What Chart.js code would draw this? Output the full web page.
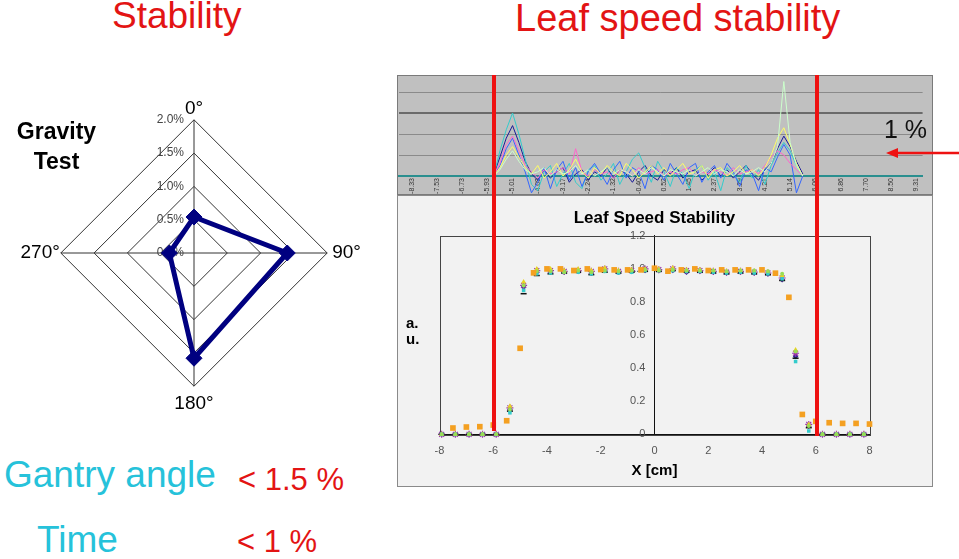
<!DOCTYPE html>
<html>
<head>
<meta charset="utf-8">
<script src="https://cdn.jsdelivr.net/npm/chart.js@4.4.1/dist/chart.umd.min.js"></script>
<style>
  body { margin: 0; background: #fff; font-family: 'Liberation Sans', Arial, sans-serif; }
  #slide { position: relative; width: 959px; height: 559px; overflow: hidden; background: #fff; }
  .txt { position: absolute; white-space: nowrap; line-height: 1; }
  canvas { position: absolute; }
  .redline { position: absolute; width: 4px; background: #ee1111; }
  .red { color: #e31414; }
  .cyan { color: #26c2da; }
</style>
</head>
<body>
<div id="slide">
  <canvas id="gravityChart" width="348" height="324" style="left:17px; top:95px;"></canvas>
  <canvas id="gapChart" width="536" height="120" style="left:397px; top:75px;"></canvas>
  <canvas id="profileChart" width="536" height="292" style="left:397px; top:195px;"></canvas>

  <div class="txt red" style="left:112px; top:-3px; font-size:37px;">Stability</div>
  <div class="txt red" style="left:515px; top:-1px; font-size:38px;">Leaf speed stability</div>

  <div class="txt" style="left:0; width:113px; text-align:center; top:120px; font-size:23px; font-weight:bold;">Gravity</div>
  <div class="txt" style="left:0; width:113px; text-align:center; top:150px; font-size:23px; font-weight:bold;">Test</div>

  <div class="txt cyan" style="left:4px; top:456px; font-size:37px;">Gantry angle</div>
  <div class="txt red" style="left:238px; top:464px; font-size:31px;">&lt; 1.5 %</div>
  <div class="txt cyan" style="left:37px; top:521px; font-size:37px;">Time</div>
  <div class="txt red" style="left:237px; top:526px; font-size:31px;">&lt; 1 %</div>

  <div class="txt" style="left:884px; top:117px; font-size:25px; color:#111;">1 %</div>
  <svg style="position:absolute; left:880px; top:140px;" width="79" height="26">
    <line x1="79" y1="13" x2="14" y2="13" stroke="#ee1111" stroke-width="2.5"/>
    <polygon points="6,13 18,8 18,18" fill="#ee1111"/>
  </svg>

  <div class="redline" style="left:492px; top:75px; height:356px;"></div>
  <div class="redline" style="left:815px; top:75px; height:361px;"></div>
</div>

<script>
// ---- data ----
// gravity test (radar), deviation in %
const gravityLabels = ['0°', '90°', '180°', '270°'];
const gravityValues = [0.54, 1.40, 1.58, 0.37];

// leaf gap difference traces (top grey panel)
const gapTickLabels = ['-8.33', '-7.53', '-6.73', '-5.93', '-5.01', '-4.09', '-3.17', '-2.24', '-1.32', '-0.40', '0.52',
                       '1.45', '2.37', '3.29', '4.21', '5.14', '6.06', '6.86', '7.70', '8.50', '9.31'];
const gapStart = 15; // first category that carries data
const gapNavy   = [0.05, 0.9, 1.8, 2.4, 1.6, 0.7, 0.1, -0.2, 0.3, -0.1, 0.2, 0.4, -0.3, 0.1, 0.3, -0.2, 0.2, 0.0, 0.4, -0.1,
                   0.3, 0.1, -0.3, 0.2, 0.5, 0.0, -0.2, 0.3, 0.1, 0.4, -0.1, 0.2, 0.3, -0.2, 0.1, 0.4, 0.0, 0.3, -0.1, 0.2,
                   0.5, 0.1, -0.2, 0.3, 0.6, 1.3, 1.9, 1.4, 0.7, 0.1];
const gapCyan   = [0.0, 1.2, 2.2, 3.0, 2.0, 0.8, -0.4, -0.7, 0.2, 0.5, -0.5, 0.1, 0.6, -0.3, -0.6, 0.3, 0.5, -0.2, 0.1, 0.6,
                   -0.4, 0.2, 0.8, 1.1, 0.4, -0.3, 0.7, 0.2, -0.5, 0.4, 0.1, -0.6, 0.3, 0.5, -0.2, 0.2, -0.7, 0.4, 0.1, -0.3,
                   0.5, -0.1, 0.3, -0.4, 0.5, 1.1, 1.6, 1.2, 0.5, 0.0];
const gapBlue   = [0.0, 0.5, 1.3, 1.8, 1.0, 0.2, -0.8, -0.3, 0.4, -0.6, 0.3, 0.7, -0.2, 0.4, -0.5, 0.2, 0.6, 0.1, -0.4, 0.3,
                   0.7, -0.1, 0.4, 0.2, -0.6, 0.5, 0.3, -0.2, 0.6, 0.1, -0.4, 0.4, 0.6, -0.3, 0.2, 0.5, -0.1, 0.6, 0.2, -0.5,
                   0.3, 0.1, -0.7, 0.4, 0.2, 0.9, 1.5, 1.0, -0.8, 0.0];
const gapYellow = [0.0, 0.4, 1.0, 1.4, 0.9, 0.4, 0.1, 0.5, -0.1, 0.2, 0.6, 0.0, 0.3, 0.8, 0.2, -0.1, 0.4, 0.1, 0.5, 0.2,
                   0.0, 0.6, 0.3, -0.1, 0.2, 0.5, 0.1, 0.4, 0.0, 0.3, 0.6, 0.1, 0.2, 0.5, -0.1, 0.3, 0.4, 0.0, 0.2, 0.5,
                   0.1, 0.3, 0.0, 0.4, 1.0, 1.8, 2.3, 1.5, 0.6, 0.0];
const gapPink   = [0.0, 0.6, 1.5, 1.9, 1.2, 0.5, 0.2, -0.1, 0.3, 0.1, 0.2, 0.4, 0.1, 1.3, 0.2, 0.0, 0.3, 0.1, 0.2, -0.1,
                   0.3, 0.2, 0.0, 0.4, 0.1, 0.2, 0.3, 0.0, 0.2, 0.1, 0.3, 0.4, 0.0, 0.2, 0.1, 0.3, 0.2, 0.0, 0.4, 0.1,
                   0.2, 0.3, 0.1, 0.5, 0.9, 1.2, 1.0, 0.6, 0.3, 0.0];
const gapGreen  = [0.0, 0.3, 0.8, 1.2, 0.7, 0.3, 0.1, 0.2, 0.4, 0.0, 0.3, 0.1, 0.2, 0.5, 0.1, 0.3, 0.0, 0.2, 0.4, 0.1,
                   0.3, 0.2, 0.0, 0.3, 0.1, 0.4, 0.2, 0.0, 0.3, 0.2, 0.1, 0.3, 0.0, 0.2, 0.4, 0.1, 0.3, 0.2, 0.0, 0.3,
                   0.1, 0.2, 0.4, 0.2, 0.6, 1.4, 4.5, 1.6, 0.5, 0.0];

// leaf speed stability profiles (x in cm, a.u.)
const orangeX = [-7.5, -7, -6.5, -6, -5.5, -5, -4.5, -4, -3.5, -3, -2.5, -2, -1.5, -1, -0.5, 0,
                 0.5, 1, 1.5, 2, 2.5, 3, 3.5, 4, 4.5, 5, 5.5, 6, 6.5, 7, 7.5, 8];
const orangeY = [0.038, 0.044, 0.046, 0.056, 0.082, 0.52, 0.976, 1.0, 1.0, 0.99, 1.0, 0.996, 0.994, 0.994, 0.994, 1.004,
                 0.986, 0.994, 1.0, 0.99, 0.994, 0.994, 0.994, 0.994, 0.974, 0.828, 0.12, 0.078, 0.07, 0.066, 0.066, 0.062];
const profX = [-7.92, -7.41, -6.9, -6.4, -5.89, -5.38, -4.87, -4.38, -3.87, -3.36, -2.84, -2.35, -1.85, -1.34, -0.85, -0.35,
               0.16, 0.68, 1.19, 1.69, 2.19, 2.68, 3.2, 3.71, 4.22, 4.75, 5.25, 5.74, 6.25, 6.77, 7.27, 7.79];
const profNavy   = [0, 0, 0, 0, 0, 0.15, 0.89, 0.98, 0.98, 0.98, 0.985, 0.975, 0.99, 0.98, 0.985, 0.99,
                    0.99, 0.99, 0.98, 0.985, 0.98, 0.975, 0.98, 0.975, 0.97, 0.935, 0.47, 0.05, 0, 0, 0, 0];
const profPurple = [0, 0, 0, 0, 0, 0.16, 0.9, 0.99, 0.99, 0.985, 0.99, 0.985, 1.0, 0.985, 0.99, 1.0,
                    0.995, 1.0, 0.99, 0.99, 0.985, 0.98, 0.985, 0.98, 0.975, 0.945, 0.49, 0.06, 0, 0, 0, 0];
const profBlack  = [0, 0, 0, 0, 0, 0.14, 0.85, 0.96, 0.97, 0.975, 0.98, 0.965, 0.98, 0.975, 0.98, 0.985,
                    0.985, 0.99, 0.98, 0.98, 0.975, 0.97, 0.975, 0.97, 0.965, 0.93, 0.46, 0.04, 0, 0, 0, 0];
const profYellow = [0, 0, 0, 0, 0, 0.17, 0.92, 1.0, 1.0, 0.99, 1.0, 0.99, 1.005, 0.99, 0.995, 1.0,
                    1.0, 1.005, 0.995, 0.995, 0.99, 0.985, 0.99, 0.985, 0.98, 0.96, 0.51, 0.06, 0, 0, 0, 0];
const profCyan   = [0, 0, 0, 0, 0, 0.13, 0.87, 0.97, 0.975, 0.98, 0.98, 0.97, 0.985, 0.975, 0.98, 0.99,
                    0.99, 0.99, 0.985, 0.985, 0.98, 0.975, 0.98, 0.975, 0.97, 0.94, 0.44, 0.02, 0, 0, 0, 0];
const profGreen  = [0, 0, 0, 0, 0, 0.15, 0.9, 0.985, 0.985, 0.98, 0.99, 0.98, 0.99, 0.985, 0.99, 0.995,
                    0.99, 0.995, 0.99, 0.99, 0.99, 0.985, 0.99, 0.99, 0.985, 0.97, 0.5, 0.05, 0, 0, 0, 0];

Chart.defaults.font.family = "'Liberation Sans', Arial, sans-serif";
Chart.defaults.animation = false;
Chart.defaults.plugins.legend.display = false;
Chart.defaults.plugins.tooltip.enabled = false;

// --- RADAR (gravity test) ---
const radarTickLabels = {
    id: 'radarTickLabels',
    beforeDatasetsDraw(chart) {
        const r = chart.scales.r;
        const ctx = chart.ctx;
        ctx.save();
        ctx.font = "12px 'Liberation Sans', Arial, sans-serif";
        ctx.fillStyle = '#444';
        ctx.textAlign = 'right';
        ctx.textBaseline = 'middle';
        r.ticks.forEach(t => {
            const d = r.getDistanceFromCenterForValue(t.value);
            ctx.fillText(t.value.toFixed(1) + '%', r.xCenter - 10, r.yCenter - d);
        });
        ctx.restore();
    }
};

const labelPad = [0, 5, 6, 1];
new Chart(document.getElementById('gravityChart'), {
    type: 'radar',
    data: {
        labels: gravityLabels,
        datasets: [{
            data: gravityValues,
            borderColor: '#000080',
            backgroundColor: '#000080',
            borderWidth: 5,
            pointStyle: 'rectRot',
            pointRadius: 8,
            pointBorderWidth: 1,
            fill: false
        }]
    },
    options: {
        responsive: false,
        scales: {
            r: {
                min: 0,
                max: 2,
                ticks: { display: false, stepSize: 0.5 },
                grid: { color: '#333', lineWidth: 1 },
                angleLines: { color: '#333', lineWidth: 1 },
                pointLabels: {
                    font: { size: 19 },
                    color: '#000',
                    padding: ctx => labelPad[ctx.index]
                }
            }
        }
    },
    plugins: [radarTickLabels]
});

// --- TOP GREY PANEL (gap traces) ---
const gapCats = [];
for (let i = 0; i < 84; i++) {
    gapCats.push((i - 2) % 4 === 0 ? gapTickLabels[(i - 2) / 4] : '');
}
function padGap(series) {
    return gapCats.map((_, i) => (i >= gapStart && i < gapStart + series.length) ? series[i - gapStart] : null);
}

const panelFill = (fill, stroke) => ({
    id: 'panelFill',
    beforeDraw(chart) {
        const ctx = chart.ctx;
        ctx.save();
        ctx.fillStyle = fill;
        ctx.fillRect(0, 0, chart.width, chart.height);
        ctx.strokeStyle = stroke;
        ctx.lineWidth = 1;
        ctx.strokeRect(0.5, 0.5, chart.width - 1, chart.height - 1);
        ctx.restore();
    }
});

const gapSets = [
    [gapGreen, '#ccffcc'],
    [gapYellow, '#ffff66'],
    [gapPink, '#ff66cc'],
    [gapBlue, '#3366ff'],
    [gapCyan, '#33cccc'],
    [gapNavy, '#1a1a99']
];

new Chart(document.getElementById('gapChart'), {
    type: 'line',
    data: {
        labels: gapCats,
        datasets: gapSets.map(([s, c]) => ({
            data: padGap(s),
            borderColor: c,
            borderWidth: 1,
            pointRadius: 0,
            tension: 0
        }))
    },
    options: {
        responsive: false,
        layout: { padding: 0 },
        scales: {
            x: {
                type: 'category',
                position: { y: 0 },
                grid: { display: false, drawTicks: false },
                border: { color: '#2a8f8f', width: 2, dash: [1, 2] },
                ticks: {
                    autoSkip: false,
                    minRotation: 90,
                    maxRotation: 90,
                    padding: 2,
                    font: { size: 7 },
                    color: '#333',
                    callback: (v, i) => gapCats[i]
                }
            },
            y: {
                min: -0.905,
                max: 4.81,
                ticks: { display: false, stepSize: 1 },
                border: { display: false },
                grid: {
                    drawTicks: false,
                    color: ctx => (Number.isInteger(ctx.tick.value) && ctx.tick.value > 0) ? (ctx.tick.value === 3 ? '#6a6a6a' : '#8a8a8a') : 'rgba(0,0,0,0)',
                    lineWidth: ctx => ctx.tick.value === 3 ? 2 : 1
                }
            }
        }
    },
    plugins: [panelFill('#c0c0c0', '#7a7a7a')]
});

// --- LOWER PANEL (leaf speed stability profiles) ---
const profileText = {
    id: 'profileText',
    beforeDatasetsDraw(chart) {
        const a = chart.chartArea;
        const ctx = chart.ctx;
        ctx.save();
        ctx.strokeStyle = '#444';
        ctx.lineWidth = 1;
        ctx.strokeRect(Math.round(a.left) + 0.5, Math.round(a.top) + 0.5, Math.round(a.right - a.left), Math.round(a.bottom - a.top));
        ctx.fillStyle = '#000';
        ctx.textAlign = 'center';
        ctx.textBaseline = 'middle';
        const cx = (a.left + a.right) / 2;
        ctx.font = "bold 17px 'Liberation Sans', Arial, sans-serif";
        ctx.fillText('Leaf Speed Stability', cx, 23);
        ctx.font = "bold 15px 'Liberation Sans', Arial, sans-serif";
        ctx.fillText('X [cm]', cx, 276);
        ctx.textAlign = 'left';
        ctx.fillText('a.', 9, 129);
        ctx.fillText('u.', 9, 145);
        ctx.restore();
    }
};

const toPts = (xs, ys) => xs.map((x, i) => ({ x, y: ys[i] }));
const marker = (xs, ys, style, color, radius, bw) => ({
    data: toPts(xs, ys),
    pointStyle: style,
    pointRadius: radius,
    pointBackgroundColor: color,
    pointBorderColor: color,
    pointBorderWidth: bw,
    showLine: false,
    clip: false
});

const tickFont = { size: 11 };
new Chart(document.getElementById('profileChart'), {
    type: 'scatter',
    data: {
        datasets: [
            marker(orangeX, orangeY, 'rect', '#f4a021', 4, 0),
            marker(profX, profGreen, 'circle', '#99dd55', 2, 0),
            marker(profX, profCyan, 'rect', '#33cccc', 2.5, 0),
            marker(profX, profYellow, 'triangle', '#e8d422', 3, 0),
            marker(profX, profBlack, 'line', '#111', 3, 1.5),
            marker(profX, profPurple, 'star', '#9933aa', 3.5, 1.2),
            marker(profX, profNavy, 'rectRot', '#2a2a99', 2.8, 0)
        ]
    },
    options: {
        responsive: false,
        layout: { padding: { left: 42.5, right: 63.5, top: 40.8, bottom: 52.7 } },
        scales: {
            x: {
                type: 'linear',
                min: -8,
                max: 8,
                position: { y: 0 },
                grid: { display: false, drawTicks: false },
                border: { color: '#111' },
                ticks: { stepSize: 2, padding: 10, font: tickFont, color: '#555' }
            },
            y: {
                min: 0,
                max: 1.2,
                position: { x: 0 },
                grid: { display: false, drawTicks: false },
                border: { color: '#111' },
                ticks: { display: false, stepSize: 0.2 }
            },
            // label column of the y axis, set a little left of the x = 0 axis line
            yl: {
                type: 'linear',
                min: 0,
                max: 1.2,
                position: { x: -0.34 },
                grid: { display: false, drawTicks: false },
                border: { display: false },
                ticks: { stepSize: 0.2, font: tickFont, color: '#555' }
            }
        }
    },
    plugins: [panelFill('#f2f2f2', '#8a8a8a'), profileText]
});
</script>
</body>
</html>
